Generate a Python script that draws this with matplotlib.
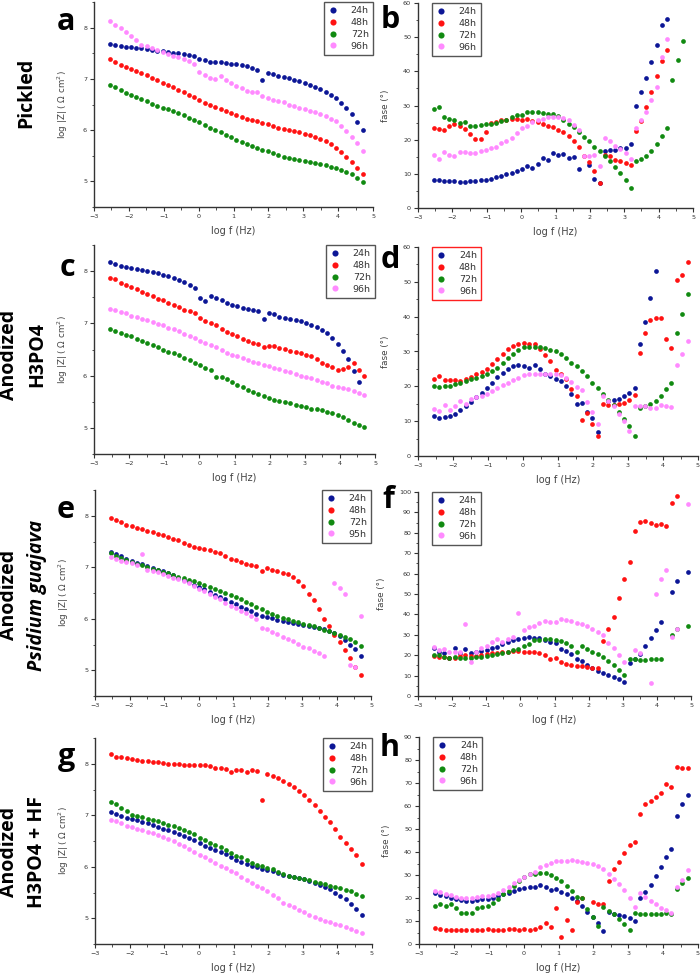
import numpy as np
import matplotlib.pyplot as plt
from matplotlib.ticker import MultipleLocator

nan = np.nan

# --- DATA ---
SERIES = ['24h', '48h', '72h', '96h']
COLORS = ['#0c1696', '#ff1212', '#118a11', '#ff8aff']

# frequency sweep (log f), shared by all panels except f
LOG_F = [-2.54, -2.39, -2.24, -2.09, -1.94, -1.79, -1.64, -1.48, -1.33, -1.18,
         -1.03, -0.88, -0.73, -0.58, -0.43, -0.28, -0.13, 0.02, 0.17, 0.33,
         0.48, 0.63, 0.78, 0.93, 1.08, 1.23, 1.38, 1.53, 1.68, 1.83,
         1.98, 2.13, 2.28, 2.44, 2.59, 2.74, 2.89, 3.04, 3.19, 3.34,
         3.49, 3.64, 3.79, 3.94, 4.09, 4.24, 4.39, 4.55, 4.70]
LOG_F_F = [-2.54, -2.39, -2.23, -2.08, -1.92, -1.77, -1.61, -1.46, -1.30, -1.15,
           -0.99, -0.84, -0.68, -0.53, -0.37, -0.22, -0.06, 0.10, 0.25, 0.41,
           0.56, 0.72, 0.87, 1.03, 1.18, 1.34, 1.49, 1.65, 1.80, 1.96,
           2.11, 2.27, 2.42, 2.58, 2.73, 2.89, 3.04, 3.20, 3.35, 3.51,
           3.66, 3.82, 3.97, 4.13, 4.28, 4.44, 4.59, 4.75, 4.90]

# a - Pickled, log|Z|
A_24 = [7.68, 7.66, 7.64, 7.63, 7.62, 7.61, 7.60, 7.58, 7.57, 7.55,
        7.54, 7.52, 7.51, 7.50, 7.49, 7.47, 7.45, 7.39, 7.36, 7.33,
        7.32, 7.33, 7.31, 7.30, 7.30, 7.28, 7.25, 7.21, 7.17, 6.98,
        7.12, 7.09, 7.06, 7.04, 7.01, 6.98, 6.95, 6.92, 6.88, 6.84,
        6.80, 6.75, 6.69, 6.62, 6.53, 6.43, 6.31, 6.16, 6.00]
A_48 = [7.38, 7.33, 7.28, 7.23, 7.19, 7.15, 7.12, 7.08, 7.02, 6.97,
        6.92, 6.88, 6.84, 6.79, 6.74, 6.69, 6.64, 6.58, 6.53, 6.49,
        6.45, 6.42, 6.38, 6.33, 6.29, 6.25, 6.22, 6.19, 6.17, 6.14,
        6.12, 6.09, 6.05, 6.02, 6.00, 5.98, 5.96, 5.93, 5.90, 5.87,
        5.83, 5.78, 5.72, 5.65, 5.57, 5.47, 5.37, 5.27, 5.15]
A_72 = [6.89, 6.84, 6.78, 6.72, 6.68, 6.64, 6.60, 6.56, 6.51, 6.47,
        6.44, 6.41, 6.37, 6.33, 6.29, 6.24, 6.19, 6.15, 6.10, 6.05,
        6.00, 5.96, 5.91, 5.86, 5.81, 5.77, 5.73, 5.69, 5.65, 5.62,
        5.59, 5.56, 5.51, 5.48, 5.46, 5.44, 5.42, 5.40, 5.38, 5.36,
        5.34, 5.32, 5.29, 5.26, 5.23, 5.19, 5.14, 5.07, 4.98]
A_96 = [8.12, 8.06, 8.00, 7.92, 7.84, 7.76, 7.67, 7.65, 7.61, 7.56,
        7.52, 7.49, 7.45, 7.42, 7.39, 7.35, 7.30, 7.14, 7.07, 7.02,
        6.99, 7.06, 6.98, 6.92, 6.87, 6.82, 6.77, 6.75, 6.75, 6.66,
        6.62, 6.59, 6.57, 6.54, 6.50, 6.47, 6.44, 6.41, 6.38, 6.35,
        6.31, 6.27, 6.22, 6.17, 6.09, 5.99, 5.87, 5.74, 5.59]

# b - Pickled, phase
B_24 = [8.2, 8.3, 8.0, 7.9, 7.8, 7.6, 7.7, 7.9, 8.0, 8.1,
        8.2, 8.6, 9.0, 9.4, 9.9, 10.3, 10.8, 11.4, 12.2, 11.8,
        13.0, 14.6, 14.0, 16.1, 15.4, 15.8, 14.7, 14.9, 11.5, nan,
        12.5, 8.6, 7.3, 16.6, 17.1, 16.9, 17.6, 17.6, 18.7, 29.8,
        33.9, 38.1, 42.8, 47.8, 53.7, 55.4, nan, nan, nan]
B_48 = [23.4, 23.1, 22.9, 24.1, 24.6, 24.1, 23.1, 21.7, 20.2, 20.3,
        22.2, 24.9, 25.1, 25.9, 25.9, 26.0, 26.0, 25.9, 26.0, 25.6,
        25.2, 24.7, 24.1, 23.6, 22.9, 22.1, 21.2, 19.7, 17.9, 15.3,
        13.4, 10.7, 7.3, 15.6, 15.1, 14.1, 13.7, 13.2, 12.5, 22.6,
        25.6, 29.6, 34.0, 38.7, 43.1, 46.3, nan, nan, nan]
B_72 = [28.9, 29.5, 26.6, 26.0, 25.7, 24.9, 25.1, 23.9, 24.1, 24.2,
        24.5, 24.7, 24.9, 25.4, 25.9, 26.5, 27.2, 27.3, 28.0, 28.1,
        28.1, 27.8, 27.6, 27.5, 26.8, 25.9, 24.7, 23.6, 22.2, 20.7,
        19.5, 18.0, 16.6, 15.1, 13.7, 11.9, 10.2, 8.3, 5.9, 13.9,
        14.3, 15.3, 16.8, 18.7, 21.2, 23.4, 37.6, 43.4, 48.8]
B_96 = [15.4, 14.3, 16.3, 15.6, 15.1, 16.3, 16.3, 16.1, 16.1, 16.6,
        17.1, 17.6, 18.0, 19.0, 19.5, 20.5, 22.0, 23.4, 24.1, 25.1,
        25.7, 26.0, 26.6, 26.6, 26.6, 26.3, 25.7, 24.4, 22.7, 15.1,
        15.1, 15.6, 12.2, 20.5, 19.5, 18.2, 17.3, 16.1, 14.3, 23.4,
        25.7, 28.0, 31.5, 35.4, 44.2, 49.5, nan, nan, nan]

# c - Anodized H3PO4, log|Z|
C_24 = [8.17, 8.13, 8.10, 8.08, 8.06, 8.04, 8.03, 8.01, 7.99, 7.96,
        7.93, 7.90, 7.87, 7.83, 7.79, 7.74, 7.68, 7.49, 7.42, 7.53,
        7.49, 7.44, 7.39, 7.35, 7.33, 7.29, 7.28, 7.26, 7.24, 7.08,
        7.19, 7.17, 7.13, 7.11, 7.08, 7.06, 7.04, 7.01, 6.97, 6.93,
        6.88, 6.81, 6.72, 6.60, 6.48, 6.31, 6.09, 5.88, nan]
C_48 = [7.87, 7.84, 7.78, 7.73, 7.69, 7.65, 7.60, 7.56, 7.52, 7.47,
        7.44, 7.39, 7.35, 7.31, 7.26, 7.23, 7.19, 7.10, 7.05, 7.01,
        6.96, 6.89, 6.83, 6.79, 6.75, 6.71, 6.67, 6.63, 6.60, 6.54,
        6.57, 6.56, 6.53, 6.51, 6.47, 6.46, 6.43, 6.40, 6.37, 6.32,
        6.25, 6.21, 6.17, 6.10, 6.12, 6.17, 6.25, 6.10, 6.00]
C_72 = [6.89, 6.86, 6.82, 6.78, 6.75, 6.71, 6.67, 6.63, 6.59, 6.55,
        6.50, 6.46, 6.43, 6.39, 6.34, 6.29, 6.24, 6.20, 6.15, 6.10,
        5.98, 5.98, 5.93, 5.88, 5.83, 5.78, 5.73, 5.69, 5.65, 5.61,
        5.57, 5.54, 5.51, 5.49, 5.47, 5.44, 5.42, 5.40, 5.37, 5.36,
        5.34, 5.31, 5.28, 5.24, 5.21, 5.16, 5.10, 5.06, 5.01]
C_96 = [7.28, 7.25, 7.21, 7.19, 7.15, 7.12, 7.09, 7.06, 7.02, 6.99,
        6.96, 6.92, 6.89, 6.85, 6.80, 6.76, 6.72, 6.67, 6.62, 6.59,
        6.54, 6.49, 6.44, 6.40, 6.37, 6.33, 6.30, 6.27, 6.24, 6.21,
        6.18, 6.15, 6.12, 6.09, 6.06, 6.03, 5.99, 5.98, 5.95, 5.92,
        5.88, 5.85, 5.81, 5.79, 5.76, 5.74, 5.71, 5.66, 5.62]

# d - Anodized H3PO4, phase
D_24 = [11.4, 10.9, 11.2, 11.5, 12.2, 13.1, 14.4, 15.5, 16.9, 18.1,
        19.5, 21.0, 22.7, 23.9, 25.1, 25.7, 26.0, 25.8, 25.4, 26.0,
        25.1, 23.6, 23.0, 22.2, 21.6, 20.1, 17.7, 15.0, 15.2, 12.6,
        10.9, 6.9, nan, 15.8, 16.0, 16.5, 17.1, 18.2, 19.5, 32.2,
        38.5, 45.4, 53.0, nan, nan, nan, nan, nan, nan]
D_48 = [22.2, 22.9, 21.9, 21.9, 21.9, 21.6, 22.2, 22.8, 23.4, 24.0,
        25.0, 26.4, 27.8, 29.2, 30.6, 31.6, 32.1, 32.4, 32.1, 32.1,
        30.6, 29.0, 27.3, 24.7, 23.4, 22.2, 19.2, 17.1, 10.4, 12.3,
        9.3, 5.8, 14.8, 14.6, 14.7, 14.8, 15.3, 16.0, 17.6, 29.6,
        35.2, 38.9, 39.7, 39.7, 33.6, 31.0, 50.5, 52.0, 55.8]
D_72 = [20.0, 19.8, 20.0, 20.2, 20.6, 21.0, 21.5, 22.0, 22.5, 22.9,
        23.5, 24.3, 25.4, 26.7, 28.0, 29.4, 30.5, 31.3, 31.4, 31.4,
        31.3, 31.0, 30.5, 30.1, 29.4, 28.0, 26.8, 25.7, 24.3, 22.9,
        21.1, 19.6, 17.8, 16.1, 14.5, 12.5, 10.6, 8.5, 5.8, 13.7,
        14.3, 14.8, 15.7, 17.2, 19.1, 21.0, 35.3, 40.8, 46.5]
D_96 = [13.6, 12.8, 14.5, 13.1, 14.4, 15.7, 15.0, 16.5, 16.9, 17.2,
        17.9, 18.6, 19.5, 20.3, 21.0, 21.7, 22.5, 23.3, 23.6, 23.6,
        23.6, 23.5, 23.4, 23.4, 23.2, 22.5, 21.2, 19.8, 18.9, 15.5,
        12.6, 9.3, 17.2, 15.7, 14.3, 12.2, 10.0, 7.1, 14.4, 14.3,
        14.4, 13.9, 13.9, 14.5, 14.4, 14.2, 26.0, 29.2, 33.1]

# e - Anodized Psidium guajava, log|Z|
E_24 = [7.29, 7.25, 7.21, 7.16, 7.12, 7.09, 7.06, 7.02, 6.98, 6.95,
        6.92, 6.88, 6.84, 6.80, 6.76, 6.71, 6.66, 6.61, 6.57, 6.52,
        6.47, 6.43, 6.38, 6.33, 6.28, 6.23, 6.19, 6.15, 6.10, 6.06,
        6.04, 6.01, 5.98, 5.96, 5.94, 5.92, 5.90, 5.88, 5.86, 5.84,
        5.82, 5.80, 5.76, 5.72, 5.66, 5.59, 5.50, 5.41, 5.28]
E_48 = [7.96, 7.92, 7.87, 7.83, 7.80, 7.77, 7.74, 7.71, 7.68, 7.65,
        7.62, 7.59, 7.55, 7.52, 7.48, 7.44, 7.40, 7.38, 7.36, 7.33,
        7.30, 7.27, 7.22, 7.16, 7.14, 7.11, 7.07, 7.04, 7.02, 6.93,
        6.98, 6.95, 6.93, 6.89, 6.87, 6.81, 6.74, 6.63, 6.48, 6.36,
        6.19, 6.00, 5.85, 5.68, 5.55, 5.40, 5.23, 5.07, 4.90]
E_72 = [7.27, 7.22, 7.18, 7.14, 7.10, 7.07, 7.04, 7.00, 6.97, 6.94,
        6.91, 6.88, 6.85, 6.82, 6.79, 6.76, 6.73, 6.70, 6.66, 6.62,
        6.58, 6.54, 6.50, 6.46, 6.42, 6.38, 6.33, 6.28, 6.23, 6.18,
        6.13, 6.10, 6.06, 6.02, 5.99, 5.96, 5.93, 5.90, 5.88, 5.85,
        5.82, 5.79, 5.76, 5.73, 5.69, 5.65, 5.60, 5.54, 5.47]
E_96 = [7.19, 7.16, 7.13, 7.11, 7.08, 7.04, 7.25, 6.95, 6.93, 6.90,
        6.86, 6.83, 6.80, 6.77, 6.73, 6.69, 6.64, 6.58, 6.54, 6.49,
        6.43, 6.38, 6.30, 6.24, 6.20, 6.15, 6.11, 6.05, 5.99, 5.83,
        5.80, 5.75, 5.70, 5.65, 5.60, 5.56, 5.51, 5.46, 5.43, 5.38,
        5.33, 5.27, nan, 6.69, 6.60, 6.49, 5.10, 5.07, 6.05]

# f - Anodized Psidium guajava, phase
F_24 = [23.4, 21.8, 21.0, 18.5, 23.7, 21.0, 23.1, 21.3, 21.8, 22.1,
        22.5, 23.4, 24.2, 25.4, 26.7, 27.4, 27.8, 28.6, 28.8, 28.6,
        28.3, 27.5, 26.5, 25.9, 23.0, 22.3, 20.5, 18.3, 17.0, 15.3,
        13.8, 12.5, 11.5, 10.3, 9.2, 8.2, 6.7, 16.0, 18.3, 20.8,
        24.4, 28.3, 32.5, 36.3, nan, 50.8, 56.3, nan, 61.0]
F_48 = [19.5, 19.2, 19.0, 18.8, 18.8, 19.5, 20.0, 19.6, 19.8, 20.2,
        20.4, 21.0, 21.3, 21.4, 21.6, 21.9, 21.9, 21.8, 21.5, 21.4,
        21.0, 19.9, 18.2, 18.8, 16.7, 15.8, 15.4, 14.8, 14.5, 14.4,
        13.8, 13.5, 27.0, 32.9, 38.8, 47.8, 57.4, 65.7, 80.7, 85.5,
        85.9, 85.0, 84.0, 84.2, 83.2, 94.8, 98.2, nan, nan]
F_72 = [20.0, 20.2, 19.3, 18.8, 19.0, 18.8, 18.7, 18.7, 19.0, 19.3,
        19.5, 20.0, 20.6, 21.2, 21.8, 22.5, 23.2, 24.5, 25.5, 27.5,
        27.3, 28.0, 28.0, 27.4, 27.1, 26.2, 24.3, 21.4, 24.3, 23.1,
        21.8, 20.4, 18.9, 17.0, 15.3, 12.9, 10.4, 18.0, 18.0, 17.7,
        17.7, 18.0, 18.3, 18.3, nan, 30.0, 32.6, nan, 34.5]
F_96 = [23.9, 22.6, 22.9, 21.8, 21.8, 21.5, 35.2, 16.9, 21.8, 23.4,
        24.7, 26.7, 28.0, 26.7, 28.0, 29.0, 40.6, 32.4, 34.0, 34.2,
        35.7, 37.0, 36.5, 36.5, 37.6, 37.3, 36.8, 36.0, 35.2, 34.4,
        32.9, 31.6, 30.0, 25.9, 23.4, 20.1, 16.9, nan, 22.6, 21.0,
        nan, 6.2, 49.9, 57.5, 62.0, 29.0, 32.9, nan, 94.3]

# g - Anodized H3PO4 + HF, log|Z|
G_24 = [7.07, 7.03, 6.99, 6.95, 6.93, 6.90, 6.87, 6.84, 6.81, 6.78,
        6.74, 6.71, 6.67, 6.64, 6.60, 6.56, 6.51, 6.46, 6.41, 6.37,
        6.33, 6.28, 6.24, 6.19, 6.14, 6.10, 6.06, 6.02, 5.99, 5.96,
        5.94, 5.91, 5.87, 5.84, 5.82, 5.81, 5.79, 5.76, 5.73, 5.68,
        5.65, 5.61, 5.57, 5.50, 5.44, 5.37, 5.28, 5.17, 5.06]
G_48 = [8.18, 8.14, 8.14, 8.12, 8.10, 8.08, 8.06, 8.05, 8.03, 8.03,
        8.02, 8.00, 7.99, 7.99, 7.98, 7.98, 7.98, 7.98, 7.97, 7.95,
        7.92, 7.92, 7.90, 7.84, 7.88, 7.87, 7.84, 7.88, 7.86, 7.29,
        7.81, 7.77, 7.72, 7.66, 7.60, 7.54, 7.47, 7.39, 7.29, 7.19,
        7.08, 6.97, 6.86, 6.73, 6.58, 6.47, 6.35, 6.23, 6.06]
G_72 = [7.25, 7.21, 7.15, 7.09, 7.01, 6.98, 6.96, 6.93, 6.90, 6.88,
        6.85, 6.82, 6.79, 6.75, 6.72, 6.68, 6.63, 6.55, 6.51, 6.47,
        6.42, 6.38, 6.33, 6.27, 6.21, 6.18, 6.13, 6.08, 6.04, 6.01,
        5.98, 5.95, 5.90, 5.86, 5.83, 5.81, 5.79, 5.76, 5.74, 5.71,
        5.69, 5.66, 5.63, 5.61, 5.58, 5.55, 5.52, 5.48, 5.43]
G_96 = [6.91, 6.88, 6.84, 6.80, 6.77, 6.74, 6.71, 6.68, 6.65, 6.61,
        6.57, 6.54, 6.50, 6.45, 6.40, 6.35, 6.29, 6.23, 6.18, 6.13,
        6.07, 6.02, 5.97, 5.92, 5.87, 5.81, 5.75, 5.69, 5.63, 5.58,
        5.52, 5.45, 5.39, 5.30, 5.26, 5.21, 5.16, 5.12, 5.06, 5.02,
        4.98, 4.95, 4.92, 4.88, 4.86, 4.83, 4.79, 4.75, 4.71]

# h - Anodized H3PO4 + HF, phase
H_24 = [22.0, 21.5, 20.8, 20.2, 19.6, 19.0, 18.8, 18.9, 19.2, 19.4,
        19.7, 20.1, 20.8, 21.6, 22.3, 23.1, 23.9, 24.5, 24.8, 25.0,
        25.6, 24.6, 23.5, 24.0, 22.7, 21.7, 20.1, 18.9, 16.6, 14.0,
        11.9, 9.3, 5.5, 14.0, 13.2, 12.6, 12.0, 11.3, 10.1, 19.8,
        22.5, 25.5, 29.5, 33.6, 37.9, 41.1, 55.8, 60.8, 65.0]
H_48 = [6.9, 6.6, 6.3, 6.2, 6.3, 6.0, 5.9, 5.9, 5.9, 6.1,
        6.5, 6.0, 6.2, 6.2, 6.4, 6.6, 6.3, 6.6, 6.3, 6.6,
        7.6, 9.0, 7.3, 15.8, 3.2, 10.5, 6.3, 18.2, 20.0, nan,
        18.2, 17.3, 17.5, 27.4, 32.6, 35.8, 39.7, 43.1, 44.5, 56.4,
        60.8, 62.1, 64.0, 65.8, 69.5, 68.1, 77.0, 76.6, 76.6]
H_72 = [16.6, 17.6, 16.6, 17.2, 15.6, 13.6, 13.6, 13.6, 15.6, 16.0,
        16.7, 18.0, 19.7, 21.8, 23.2, 25.4, 27.2, 29.1, 30.4, 30.4,
        31.0, 30.7, 29.8, 28.7, 27.3, 25.3, 23.1, 20.5, 19.9, 15.3,
        11.7, 7.9, 16.0, 14.5, 13.0, 11.0, 8.8, 6.3, 13.6, 13.2,
        13.2, 13.0, 13.0, 13.0, 13.6, 13.2, 24.0, 26.6, 28.6]
H_96 = [23.0, 22.5, 21.6, 21.3, 20.5, 20.2, 19.9, 20.2, 20.5, 20.8,
        21.0, 21.5, 22.0, 23.3, 24.8, 26.5, 27.8, 29.3, 30.3, 31.5,
        33.3, 34.4, 35.2, 36.0, 36.2, 36.2, 36.5, 36.2, 35.6, 35.4,
        35.0, 34.0, 32.6, 30.5, 28.3, 26.1, 23.6, 20.2, 16.2, 22.3,
        20.5, 18.8, 17.5, 15.6, 14.6, 13.6, 24.7, 27.9, 32.0]

W, H = 700, 975
ZLABEL = 'log |Z| ( \u03a9 cm$^{2}$)'
PHASE_LABEL = 'fase (\u00b0)'

plt.rcParams['legend.fontsize'] = 6.8
plt.rcParams['legend.handlelength'] = 1.0
plt.rcParams['legend.handletextpad'] = 1.4
plt.rcParams['legend.labelspacing'] = 0.3
plt.rcParams['legend.borderpad'] = 0.45
plt.rcParams['legend.fancybox'] = False
plt.rcParams['legend.framealpha'] = 1.0
plt.rcParams['legend.markerscale'] = 1.3


def px_rect(x0, y0, x1, y1):
    # pixel box (top-left origin) -> figure fraction rect
    return [x0 / W, 1 - y1 / H, (x1 - x0) / W, (y1 - y0) / H]


def draw_panel(fig, rect, x, series, ylim, ystep, ylabel, labels,
               legend_left, legend_edge='#555555'):
    ax = fig.add_axes(rect)
    for vals, lab, col in zip(series, labels, COLORS):
        ax.plot(x, vals, 'o', ms=3.4, color=col, mec='none', label=lab)
    ax.set_xlim(-3, 5)
    ax.set_ylim(*ylim)
    ax.xaxis.set_major_locator(MultipleLocator(1))
    ax.xaxis.set_minor_locator(MultipleLocator(0.5))
    ax.yaxis.set_major_locator(MultipleLocator(ystep))
    ax.yaxis.set_minor_locator(MultipleLocator(ystep / 2))
    for side in ['top', 'right']:
        ax.spines[side].set_visible(False)
    for side in ['left', 'bottom']:
        ax.spines[side].set_linewidth(1.0)
        ax.spines[side].set_color('#333333')
    ax.tick_params(which='major', direction='out', length=3, width=0.8,
                   labelsize=4.6, colors='#333333', pad=2)
    ax.tick_params(which='minor', direction='out', length=1.8, width=0.6,
                   colors='#333333')
    ax.set_xlabel('log f (Hz)', fontsize=7, color='#444444', labelpad=5)
    ax.set_ylabel(ylabel, fontsize=6.3, color='#444444', labelpad=9)
    if legend_left:
        leg = ax.legend(loc='upper left', bbox_to_anchor=(0.05, 1.0),
                        borderaxespad=0)
    else:
        leg = ax.legend(loc='upper right', bbox_to_anchor=(1.0, 1.0),
                        borderaxespad=0)
    frame = leg.get_frame()
    frame.set_boxstyle('square', pad=0)
    frame.set_edgecolor(legend_edge)
    frame.set_linewidth(1.0)
    for t in leg.get_texts():
        t.set_color('#333333')
    return ax


fig = plt.figure(figsize=(7, 9.75), dpi=100)

# left column: impedance modulus, right column: phase
draw_panel(fig, px_rect(94, 2, 373, 207), LOG_F, [A_24, A_48, A_72, A_96],
           (4.5, 8.5), 1, ZLABEL, SERIES, False)
draw_panel(fig, px_rect(418, 3, 693, 208), LOG_F, [B_24, B_48, B_72, B_96],
           (0, 60), 10, PHASE_LABEL, SERIES, True)
draw_panel(fig, px_rect(94, 245, 375, 454), LOG_F, [C_24, C_48, C_72, C_96],
           (4.5, 8.5), 1, ZLABEL, SERIES, False)
draw_panel(fig, px_rect(418, 247, 698, 456), LOG_F, [D_24, D_48, D_72, D_96],
           (0, 60), 10, PHASE_LABEL, SERIES, True, legend_edge='#ff2020')
draw_panel(fig, px_rect(95, 490, 371, 696), LOG_F, [E_24, E_48, E_72, E_96],
           (4.5, 8.5), 1, ZLABEL, ['24h', '48h', '72h', '95h'], False)
draw_panel(fig, px_rect(418, 492, 691, 696), LOG_F_F, [F_24, F_48, F_72, F_96],
           (0, 100), 10, PHASE_LABEL, SERIES, True)
draw_panel(fig, px_rect(95, 738, 372, 944), LOG_F, [G_24, G_48, G_72, G_96],
           (4.5, 8.5), 1, ZLABEL, SERIES, False)
draw_panel(fig, px_rect(419, 737, 698, 944), LOG_F, [H_24, H_48, H_72, H_96],
           (0, 90), 10, PHASE_LABEL, SERIES, True)

# panel letters
letters = [('a', 66, 22), ('b', 390, 20), ('c', 67, 268), ('d', 390, 260),
           ('e', 66, 510), ('f', 388, 500), ('g', 66, 757), ('h', 390, 748)]
for s, x, y in letters:
    fig.text(x / W, 1 - y / H, s, fontsize=22, fontweight='bold',
             family='Open Sans', ha='center', va='center')

# row labels (rotated)
rows = [
    ('Pickled', None, 26, 93),
    ('Anodized', 'H3PO4', 23, 355),
    ('Anodized', 'Psidium guajava', 23, 595),
    ('Anodized', 'H3PO4 + HF', 23, 852),
]
for first, second, x, y in rows:
    if second is None:
        fig.text(x / W, 1 - y / H, first, rotation=90, fontsize=14,
                 fontweight='bold', family='Open Sans', ha='center', va='center')
        continue
    fig.text((x - 14) / W, 1 - y / H, first, rotation=90, fontsize=14,
             fontweight='bold', family='Open Sans', ha='center', va='center')
    style = 'italic' if 'Psidium' in second else 'normal'
    fig.text((x + 14) / W, 1 - y / H, second, rotation=90, fontsize=14,
             fontweight='bold', style=style, family='Open Sans',
             ha='center', va='center')

fig.savefig('out.png', dpi=100)
